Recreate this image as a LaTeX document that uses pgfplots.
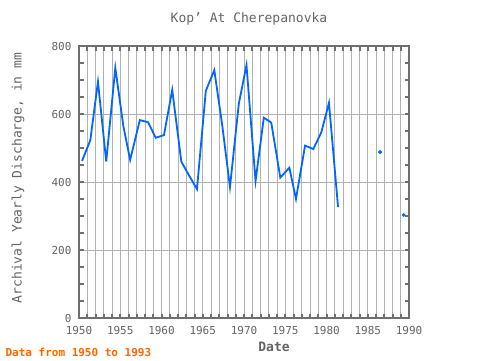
\documentclass[border=0pt]{standalone}
\usepackage{pgfplots}
\pgfplotsset{compat=1.18}
\usepackage{fontspec}
\setmainfont{DejaVu Sans Mono}
\definecolor{linecol}{RGB}{0,102,255}
\definecolor{framecol}{RGB}{110,110,110}
\definecolor{gridcol}{RGB}{176,176,176}
\definecolor{txtcol}{RGB}{100,100,100}
\definecolor{footcol}{RGB}{255,102,0}
\begin{document}
\begin{tikzpicture}
\path[use as bounding box] (0pt,0pt) rectangle (480pt,360pt);
\begin{axis}[
  at={(79pt,42pt)}, anchor=south west,
  width=330pt, height=272pt, scale only axis,
  xmin=1950, xmax=1990, ymin=0, ymax=800,
  xtick={1950,1955,...,1990}, minor x tick num=4,
  ytick={0,200,...,800}, minor y tick num=3,
  xmajorgrids, xminorgrids, ymajorgrids,
  major grid style={gridcol, line width=1pt},
  minor grid style={gridcol, line width=1pt},
  axis line style={framecol, line width=2pt},
  tick style={framecol, line width=2pt},
  major tick length=4.5pt, minor tick length=4.5pt,
  tick align=inside,
  xticklabel style={/pgf/number format/1000 sep={}, font=\fontsize{11}{11}\selectfont, text=txtcol, yshift=-5pt},
  yticklabel style={font=\fontsize{11}{11}\selectfont, text=txtcol, xshift=-4pt},
  /pgf/number format/assume math mode=true,
  scaled ticks=false,
]
\addplot[linecol, line width=1.8pt, mark=none] coordinates {
(1950.37,462) (1951.37,523) (1952.3,695) (1953.3,460) (1954.4,736)
(1955.37,565) (1956.2,465) (1957.37,582) (1958.37,576) (1959.3,530)
(1960.3,538) (1961.3,671) (1962.4,460) (1963.37,418) (1964.3,379)
(1965.37,668) (1966.4,729) (1967.37,565) (1968.3,385) (1969.37,630)
(1970.3,744) (1971.4,403) (1972.4,589) (1973.3,575) (1974.4,413)
(1975.5,442) (1976.3,350) (1977.4,507) (1978.4,497) (1979.37,546)
(1980.3,633) (1981.4,326)
};
\addplot[linecol, only marks, mark=*, mark size=1.8pt] coordinates {(1986.5,488) (1989.35,303)};
\end{axis}
\node[text=txtcol, font=\fontsize{13}{13}\selectfont] at (249pt,341pt) {Kop' At Cherepanovka};
\node[text=txtcol, font=\fontsize{13}{13}\selectfont, rotate=90] at (18pt,182pt) {Archival Yearly Discharge, in mm};
\node[text=txtcol, font=\bfseries\fontsize{13}{13}\selectfont] at (274pt,13pt) {Date};
\node[text=footcol, font=\bfseries\fontsize{11}{11}\selectfont, anchor=west] at (2pt,8pt) {Data from 1950 to 1993};
\end{tikzpicture}
\end{document}
